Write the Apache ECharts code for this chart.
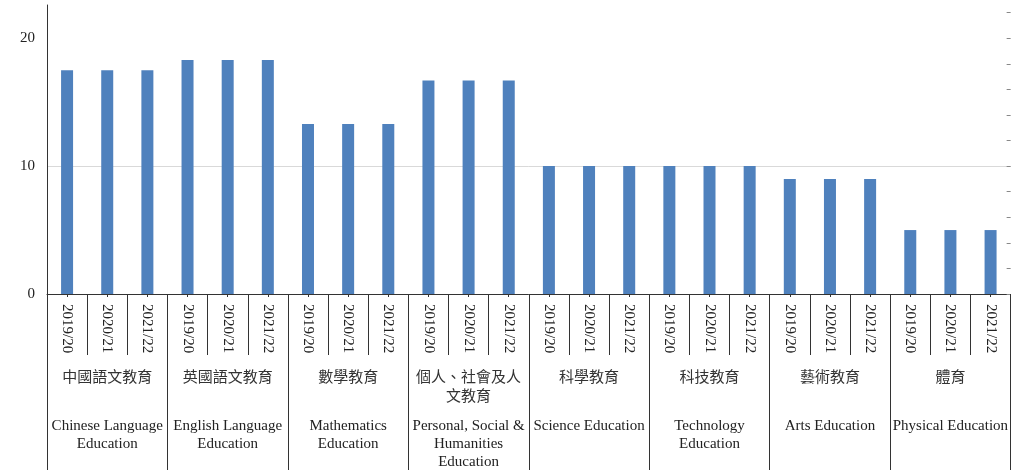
<!DOCTYPE html>
<html>
<head>
<meta charset="utf-8">
<script src="https://cdn.jsdelivr.net/npm/echarts@6/dist/echarts.min.js"></script>
<style>
  html, body { margin: 0; padding: 0; background: #fff; }
  #main { width: 1011px; height: 471px; }
</style>
</head>
<body>
<div id="main"></div>
<script>
// 學年
const years = ['2019/20', '2020/21', '2021/22'];
// 學習領域
const subjectsZh = ['中國語文教育', '英國語文教育', '數學教育', '個人、社會及人\n文教育', '科學教育', '科技教育', '藝術教育', '體育'];
const subjectsEn = ['Chinese Language\nEducation', 'English Language\nEducation', 'Mathematics\nEducation', 'Personal, Social &\nHumanities\nEducation', 'Science Education', 'Technology\nEducation', 'Arts Education', 'Physical Education'];
// 每個領域三個學年的數值
const values2019 = [17.5, 18.3, 13.3, 16.7, 10, 10, 9, 5];
const values2020 = [17.5, 18.3, 13.3, 16.7, 10, 10, 9, 5];
const values2021 = [17.5, 18.3, 13.3, 16.7, 10, 10, 9, 5];
// 刻度
const leftTicks = [0, 10, 20];
const rightTicks = [0, 2, 4, 6, 8, 10, 12, 14, 16, 18, 20, 22];
const axisMax = 22.6;

const yearCats = [];
const barData = [];
subjectsZh.forEach((s, i) => {
  yearCats.push(...years);
  barData.push(values2019[i], values2020[i], values2021[i]);
});

const serif = '"Liberation Serif", "Times New Roman", serif';
const lineColor = '#333';

const chart = echarts.init(document.getElementById('main'));
chart.setOption({
  animation: false,
  grid: { left: 47, right: -1.5, top: 5, bottom: 177 },
  xAxis: [
    {
      // 學年標籤
      type: 'category',
      position: 'bottom',
      data: yearCats,
      axisLine: { lineStyle: { color: lineColor, width: 1 } },
      axisTick: { show: true, interval: 0, length: 61, lineStyle: { color: lineColor } },
      axisLabel: {
        interval: 0, rotate: -90, margin: 10,
        fontFamily: serif, fontSize: 15, color: '#222'
      }
    },
    {
      // 條形中間的小刻度
      type: 'category',
      position: 'bottom',
      data: yearCats,
      axisLine: { show: false },
      axisTick: { show: true, interval: 0, alignWithLabel: true, length: 3, lineStyle: { color: lineColor } },
      axisLabel: { show: false }
    },
    {
      // 中文領域名稱
      type: 'category',
      position: 'bottom',
      data: subjectsZh,
      axisLine: { show: false },
      axisTick: { show: true, interval: 0, length: 176, lineStyle: { color: lineColor } },
      axisLabel: {
        interval: 0, margin: 73, lineHeight: 19,
        fontFamily: '"Noto Sans CJK TC", sans-serif', fontSize: 15, color: '#333'
      }
    },
    {
      // 英文領域名稱
      type: 'category',
      position: 'bottom',
      data: subjectsEn,
      axisLine: { show: false },
      axisTick: { show: false },
      axisLabel: {
        interval: 0, margin: 123, lineHeight: 18,
        fontFamily: serif, fontSize: 15, color: '#222'
      }
    }
  ],
  yAxis: [
    {
      type: 'value',
      min: 0,
      max: axisMax,
      interval: 10,
      axisLine: { show: true, lineStyle: { color: lineColor } },
      axisTick: { show: false, customValues: leftTicks },
      axisLabel: { customValues: leftTicks, margin: 12, fontFamily: serif, fontSize: 15, color: '#222' },
      splitLine: {
        show: true,
        showMaxLine: false,
        lineStyle: { color: ['#d9d9d9', '#d9d9d9', '#d9d9d9', 'rgba(0,0,0,0)'] }
      }
    },
    {
      type: 'value',
      position: 'right',
      min: 0,
      max: axisMax,
      interval: 2,
      axisLine: { show: false },
      axisTick: { show: true, inside: true, length: 4, customValues: rightTicks, lineStyle: { color: '#888' } },
      axisLabel: { show: false },
      splitLine: { show: false }
    }
  ],
  series: [
    {
      type: 'bar',
      xAxisIndex: 0,
      yAxisIndex: 0,
      data: barData,
      barWidth: 12,
      itemStyle: { color: '#4f81bd' }
    }
  ]
});
</script>
</body>
</html>
